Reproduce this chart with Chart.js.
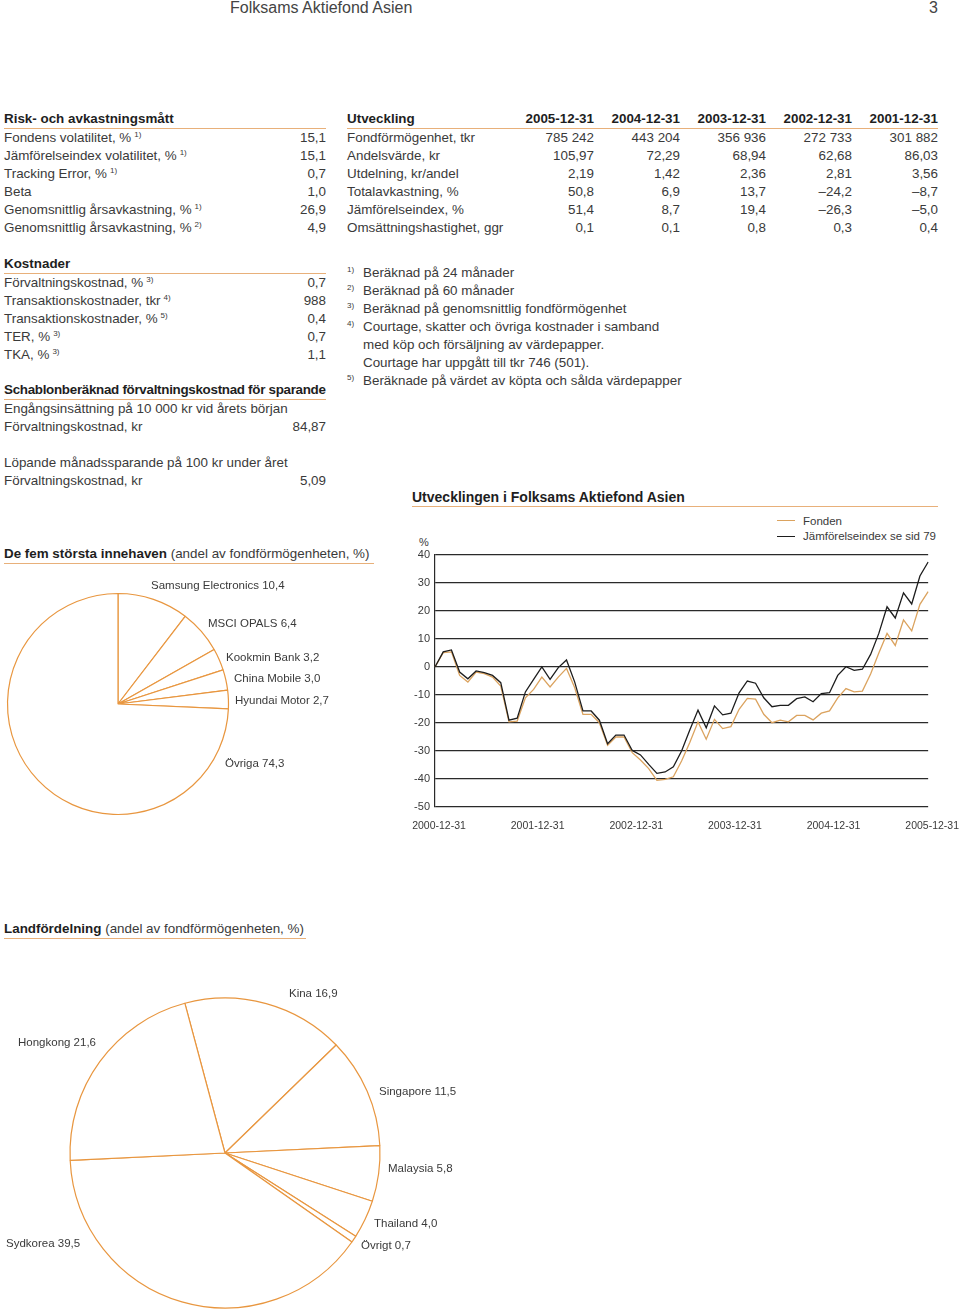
<!DOCTYPE html>
<html lang="sv">
<head>
<meta charset="utf-8">
<title>Folksams Aktiefond Asien</title>
<script src="https://cdn.jsdelivr.net/npm/chart.js@4.4.1/dist/chart.umd.min.js"></script>
<style>
  body { margin: 0; background: #fff; font-family: "Liberation Sans", Arial, sans-serif; color: #3a3a3a; }
  .page { position: relative; width: 960px; height: 1313px; overflow: hidden; }
  .abs { position: absolute; }
  .tbl { font-size: 13.4px; line-height: 18px; }
  .tbl .row { display: flex; height: 18px; white-space: nowrap; }
  .tbl .row > span:first-child { flex: 1; }
  .tbl .num { text-align: right; }
  .tbl .head { font-weight: bold; color: #1e1e1e; border-bottom: 1px solid #e8b07a; height: 18px; }
  sup { font-size: 8px; vertical-align: 5px; line-height: 0; margin-left: 3px; }
  .lbl { position: absolute; font-size: 11.5px; line-height: 14px; white-space: nowrap; color: #3a3a3a; }
  .title { font-weight: bold; color: #1e1e1e; font-size: 13.4px; line-height: 18px; border-bottom: 1px solid #e8b07a; white-space: nowrap; }
  .title span { font-weight: normal; color: #3a3a3a; }
</style>
</head>
<body>
<div class="page">
  <div class="abs" style="left:230px; top:-1px; font-size:16px; line-height:18px; color:#444;">Folksams Aktiefond Asien</div>
  <div class="abs" style="left:929px; top:-1px; font-size:16px; line-height:18px; color:#444;">3</div>

  <!-- Risk- och avkastningsmått -->
  <div class="abs tbl" style="left:4px; top:110px; width:322px;">
    <div class="row head"><span>Risk- och avkastningsmått</span></div>
    <div class="row"><span>Fondens volatilitet, %<sup>1)</sup></span><span class="num">15,1</span></div>
    <div class="row"><span>Jämförelseindex volatilitet, %<sup>1)</sup></span><span class="num">15,1</span></div>
    <div class="row"><span>Tracking Error, %<sup>1)</sup></span><span class="num">0,7</span></div>
    <div class="row"><span>Beta</span><span class="num">1,0</span></div>
    <div class="row"><span>Genomsnittlig årsavkastning, %<sup>1)</sup></span><span class="num">26,9</span></div>
    <div class="row"><span>Genomsnittlig årsavkastning, %<sup>2)</sup></span><span class="num">4,9</span></div>
  </div>

  <!-- Utveckling -->
  <div class="abs tbl" style="left:347px; top:110px; width:591px;" id="utv"></div>

  <!-- Kostnader -->
  <div class="abs tbl" style="left:4px; top:255px; width:322px;">
    <div class="row head"><span>Kostnader</span></div>
    <div class="row"><span>Förvaltningskostnad, %<sup>3)</sup></span><span class="num">0,7</span></div>
    <div class="row"><span>Transaktionskostnader, tkr<sup>4)</sup></span><span class="num">988</span></div>
    <div class="row"><span>Transaktionskostnader, %<sup>5)</sup></span><span class="num">0,4</span></div>
    <div class="row"><span>TER, %<sup>3)</sup></span><span class="num">0,7</span></div>
    <div class="row"><span>TKA, %<sup>3)</sup></span><span class="num">1,1</span></div>
  </div>

  <div class="abs tbl" style="left:4px; top:381px; width:322px;">
    <div class="row head" style="letter-spacing:-0.3px;"><span>Schablonberäknad förvaltningskostnad för sparande</span></div>
    <div class="row"><span>Engångsinsättning på 10 000 kr vid årets början</span></div>
    <div class="row"><span>Förvaltningskostnad, kr</span><span class="num">84,87</span></div>
    <div class="row"><span></span></div>
    <div class="row"><span>Löpande månadssparande på 100 kr under året</span></div>
    <div class="row"><span>Förvaltningskostnad, kr</span><span class="num">5,09</span></div>
  </div>

  <!-- Fotnoter -->
  <div class="abs tbl" style="left:347px; top:264px; width:420px;">
    <div class="row"><span style="flex:none;width:16px;"><sup style="margin:0">1)</sup></span><span>Beräknad på 24 månader</span></div>
    <div class="row"><span style="flex:none;width:16px;"><sup style="margin:0">2)</sup></span><span>Beräknad på 60 månader</span></div>
    <div class="row"><span style="flex:none;width:16px;"><sup style="margin:0">3)</sup></span><span>Beräknad på genomsnittlig fondförmögenhet</span></div>
    <div class="row"><span style="flex:none;width:16px;"><sup style="margin:0">4)</sup></span><span>Courtage, skatter och övriga kostnader i samband</span></div>
    <div class="row"><span style="flex:none;width:16px;"></span><span>med köp och försäljning av värdepapper.</span></div>
    <div class="row"><span style="flex:none;width:16px;"></span><span>Courtage har uppgått till tkr 746 (501).</span></div>
    <div class="row"><span style="flex:none;width:16px;"><sup style="margin:0">5)</sup></span><span>Beräknade på värdet av köpta och sålda värdepapper</span></div>
  </div>

  <!-- Utvecklingen -->
  <div class="abs title" style="left:412px; top:488px; width:526px; font-size:14px;">Utvecklingen i Folksams Aktiefond Asien</div>
  <div class="abs" style="left:777px; top:520px; width:18px; height:1px; background:#dba35f;"></div>
  <div class="lbl" style="left:803px; top:514px;">Fonden</div>
  <div class="abs" style="left:777px; top:536px; width:18px; height:1px; background:#1d1d1d;"></div>
  <div class="lbl" style="left:803px; top:529px;">Jämförelseindex se sid 79</div>
  <div class="lbl" style="left:419px; top:535px; font-size:11px;">%</div>
  <canvas id="lineChart" class="abs" width="560" height="300" style="left:400px; top:540px;"></canvas>

  <!-- De fem största innehaven -->
  <div class="abs title" style="left:4px; top:545px; width:370px;">De fem största innehaven <span>(andel av fondförmögenheten, %)</span></div>
  <canvas id="holdingsPie" class="abs" width="232" height="232" style="left:2px; top:588px;"></canvas>
  <div class="lbl" style="left:151px; top:578px;">Samsung Electronics 10,4</div>
  <div class="lbl" style="left:208px; top:616px;">MSCI OPALS 6,4</div>
  <div class="lbl" style="left:226px; top:650px;">Kookmin Bank 3,2</div>
  <div class="lbl" style="left:234px; top:671px;">China Mobile 3,0</div>
  <div class="lbl" style="left:235px; top:693px;">Hyundai Motor 2,7</div>
  <div class="lbl" style="left:225px; top:756px;">Övriga 74,3</div>

  <!-- Landfördelning -->
  <div class="abs title" style="left:4px; top:920px; width:302px;">Landfördelning <span>(andel av fondförmögenheten, %)</span></div>
  <canvas id="countryPie" class="abs" width="320" height="320" style="left:65px; top:993px;"></canvas>
  <div class="lbl" style="left:289px; top:986px;">Kina 16,9</div>
  <div class="lbl" style="left:18px; top:1035px;">Hongkong 21,6</div>
  <div class="lbl" style="left:379px; top:1084px;">Singapore 11,5</div>
  <div class="lbl" style="left:388px; top:1161px;">Malaysia 5,8</div>
  <div class="lbl" style="left:374px; top:1216px;">Thailand 4,0</div>
  <div class="lbl" style="left:361px; top:1238px;">Övrigt 0,7</div>
  <div class="lbl" style="left:6px; top:1236px;">Sydkorea 39,5</div>
</div>

<script>
// Utveckling table
const utvYears = ["2005-12-31", "2004-12-31", "2003-12-31", "2002-12-31", "2001-12-31"];
const utvRows = [
  ["Fondförmögenhet, tkr", "785 242", "443 204", "356 936", "272 733", "301 882"],
  ["Andelsvärde, kr", "105,97", "72,29", "68,94", "62,68", "86,03"],
  ["Utdelning, kr/andel", "2,19", "1,42", "2,36", "2,81", "3,56"],
  ["Totalavkastning, %", "50,8", "6,9", "13,7", "–24,2", "–8,7"],
  ["Jämförelseindex, %", "51,4", "8,7", "19,4", "–26,3", "–5,0"],
  ["Omsättningshastighet, ggr", "0,1", "0,1", "0,8", "0,3", "0,4"]
];

// Line chart data (monthly, % change since 2000-12-31)
const months = [
  "2000-12",
  "2001-01", "2001-02", "2001-03", "2001-04", "2001-05", "2001-06", "2001-07", "2001-08", "2001-09", "2001-10", "2001-11", "2001-12",
  "2002-01", "2002-02", "2002-03", "2002-04", "2002-05", "2002-06", "2002-07", "2002-08", "2002-09", "2002-10", "2002-11", "2002-12",
  "2003-01", "2003-02", "2003-03", "2003-04", "2003-05", "2003-06", "2003-07", "2003-08", "2003-09", "2003-10", "2003-11", "2003-12",
  "2004-01", "2004-02", "2004-03", "2004-04", "2004-05", "2004-06", "2004-07", "2004-08", "2004-09", "2004-10", "2004-11", "2004-12",
  "2005-01", "2005-02", "2005-03", "2005-04", "2005-05", "2005-06", "2005-07", "2005-08", "2005-09", "2005-10", "2005-11", "2005-12"
];
const tickLabels = ["2000-12-31", "2001-12-31", "2002-12-31", "2003-12-31", "2004-12-31", "2005-12-31"];
const fonden = [
  0, 5.1, 5.4, -3, -5.4, -1.8, -2.4, -3.6, -6.8, -19.6, -19.3, -11, -8,
  -3.6, -7.1, -3.6, -0.5, -7.4, -16.9, -16.9, -19.9, -28, -25, -25, -30.6,
  -33.2, -36.3, -40.5, -40.1, -39.2, -33.6, -27, -19.6, -25.8, -18.7, -22, -21.3,
  -15.1, -11.2, -11.5, -16.9, -19.9, -19, -19.6, -17.3, -17.3, -18.9, -16.5, -15.7,
  -11, -7.7, -8.9, -8.6, -2.5, 5, 12, 7.7, 16.8, 12.9, 22.4, 26.9
];
const jamforelseindex = [
  0, 5.4, 6.1, -1.8, -4.2, -1.4, -2, -3, -5.6, -19, -18.3, -8.9, -4.4,
  0, -4.4, -0.2, 2.5, -5.4, -15.7, -15.7, -19, -27.4, -24.3, -24.3, -29.8,
  -31.4, -34.8, -38, -37.5, -35.6, -30, -22.5, -15.4, -21.7, -13.9, -17.1, -16.5,
  -9.2, -5, -5.8, -11, -14.2, -13.7, -13.7, -11.3, -10.7, -12.4, -9.5, -9.2,
  -3, 0.1, -1.2, -0.8, 4.5, 12, 21.5, 17.5, 26.5, 22.5, 32.5, 37.5
];

// Pie data
const holdingNames = ["Samsung Electronics", "MSCI OPALS", "Kookmin Bank", "China Mobile", "Hyundai Motor", "Övriga"];
const holdingValues = [10.4, 6.4, 3.2, 3.0, 2.7, 74.3];
const countryNames = ["Kina", "Singapore", "Malaysia", "Thailand", "Övrigt", "Sydkorea", "Hongkong"];
const countryValues = [16.9, 11.5, 5.8, 4.0, 0.7, 39.5, 21.6];

const orange = "#e8963f";
const textColor = "#3a3a3a";

// build Utveckling table
const utv = document.getElementById("utv");
let html = '<div class="row head"><span>Utveckling</span>';
utvYears.forEach(y => { html += `<span class="num" style="width:86px;flex:none;">${y}</span>`; });
html += "</div>";
utvRows.forEach(r => {
  html += `<div class="row"><span>${r[0]}</span>`;
  r.slice(1).forEach(v => { html += `<span class="num" style="width:86px;flex:none;">${v}</span>`; });
  html += "</div>";
});
utv.innerHTML = html;

Chart.defaults.font.family = '"Liberation Sans", Arial, sans-serif';
Chart.defaults.color = textColor;

new Chart(document.getElementById("lineChart"), {
  type: "line",
  data: {
    labels: months,
    datasets: [
      { label: "Jämförelseindex se sid 79", data: jamforelseindex, borderColor: "#1d1d1d", borderWidth: 1.3, pointRadius: 0, tension: 0 },
      { label: "Fonden", data: fonden, borderColor: "#dba35f", borderWidth: 1.3, pointRadius: 0, tension: 0 }
    ]
  },
  options: {
    responsive: false,
    animation: false,
    layout: { padding: { top: 15, right: 23, left: 0, bottom: 0 } },
    plugins: { legend: { display: false }, tooltip: { enabled: false } },
    scales: {
      x: {
        grid: { display: false },
        border: { display: false },
        ticks: {
          autoSkip: false,
          maxRotation: 0,
          padding: 5,
          labelOffset: 4,
          font: { size: 10.5 },
          callback: (v, i) => (i % 12 === 0 ? tickLabels[i / 12] : null)
        },
        afterFit: s => { s.height = 33; }
      },
      y: {
        min: -50,
        max: 40,
        ticks: { stepSize: 10, padding: 5, font: { size: 11 } },
        grid: { color: "#2a2a2a", lineWidth: 1.2, drawTicks: false },
        border: { display: true, color: "#2a2a2a", width: 1.2 },
        afterFit: s => { s.width = 35; }
      }
    }
  }
});

const pieOptions = (rotation, radius) => ({
  responsive: false,
  animation: false,
  rotation: rotation,
  radius: radius,
  layout: { padding: 0 },
  plugins: { legend: { display: false }, tooltip: { enabled: false } }
});

new Chart(document.getElementById("holdingsPie"), {
  type: "pie",
  data: {
    labels: holdingNames,
    datasets: [{ data: holdingValues, backgroundColor: "#ffffff", borderColor: orange, borderWidth: 1.2 }]
  },
  options: pieOptions(0, 110.5)
});

new Chart(document.getElementById("countryPie"), {
  type: "pie",
  data: {
    labels: countryNames,
    datasets: [{ data: countryValues, backgroundColor: "#ffffff", borderColor: orange, borderWidth: 1.2 }]
  },
  options: pieOptions(-15, 155)
});
</script>
</body>
</html>
